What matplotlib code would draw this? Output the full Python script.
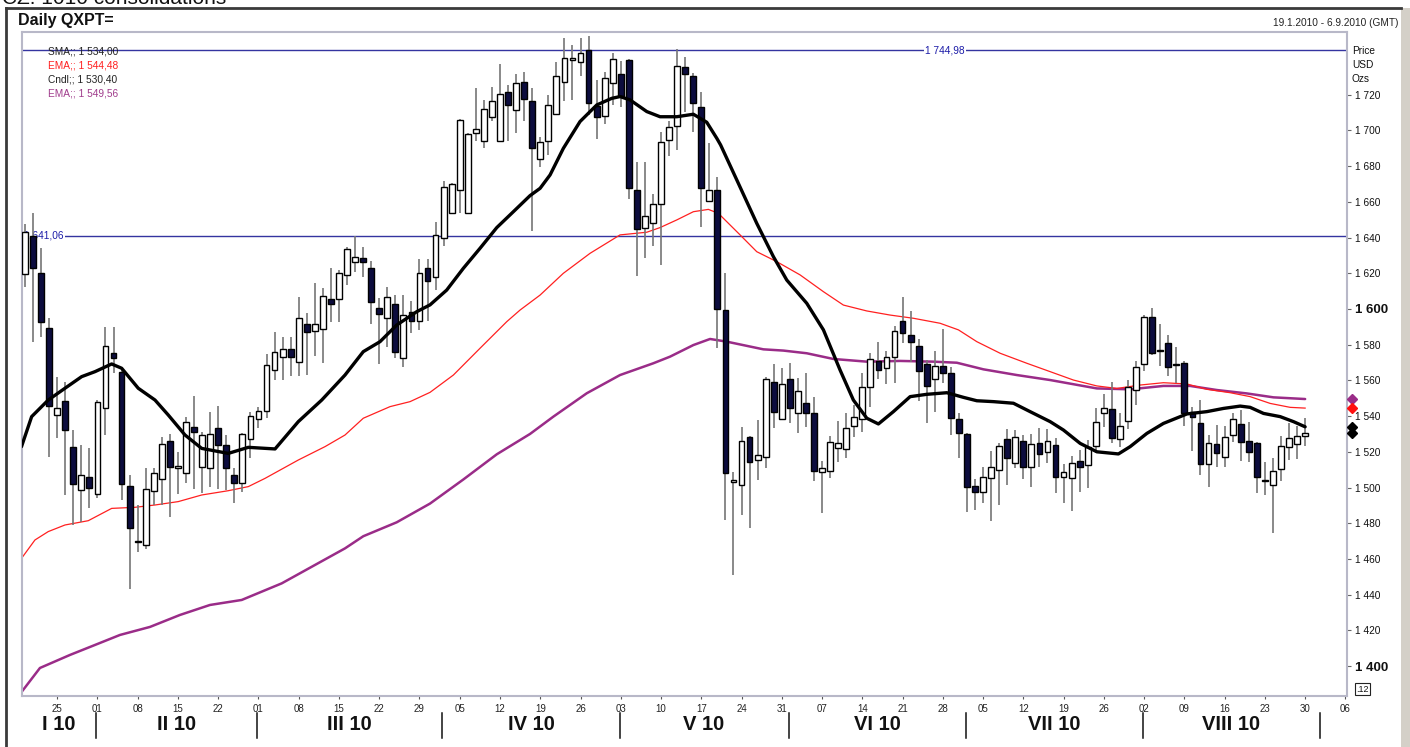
import matplotlib
matplotlib.use("Agg")
import matplotlib.pyplot as plt
import matplotlib.transforms as mtransforms
from matplotlib.lines import Line2D
from matplotlib.patches import Rectangle
import pandas as pd

plt.rcParams['font.family'] = ['Liberation Sans', 'DejaVu Sans']

# ---------------- data ----------------
first_day = "2010-01-19"
axis_last_day = "2010-09-06"
n_candles = 160

opens = [1619.6, 1640.9, 1620.0, 1589.2, 1540.6, 1548.5, 1522.9, 1498.6, 1506.1, 1496.2,
         1544.4, 1575.2, 1564.9, 1500.9, 1470.2, 1467.8, 1498.0, 1504.6, 1526.1, 1510.8,
         1507.9, 1534.1, 1511.3, 1511.1, 1533.2, 1523.8, 1506.8, 1502.3, 1527.0, 1538.2,
         1542.9, 1565.8, 1572.9, 1577.4, 1570.1, 1591.6, 1587.9, 1588.6, 1605.4, 1605.6,
         1619.0, 1626.1, 1628.4, 1622.8, 1600.4, 1594.8, 1602.6, 1572.4, 1598.1, 1593.3,
         1622.8, 1617.7, 1639.6, 1653.6, 1666.7, 1653.6, 1698.4, 1694.1, 1707.8, 1694.1,
         1721.8, 1711.5, 1727.4, 1716.5, 1683.8, 1694.1, 1709.1, 1727.0, 1739.5, 1738.2,
         1745.1, 1713.9, 1708.1, 1726.4, 1731.5, 1739.5, 1666.7, 1645.2, 1648.0, 1658.6,
         1694.7, 1702.5, 1735.4, 1730.7, 1713.4, 1660.5, 1666.7, 1599.4, 1502.9, 1501.4,
         1528.1, 1515.4, 1517.3, 1558.9, 1538.2, 1560.6, 1541.6, 1547.2, 1541.6, 1508.9,
         1509.4, 1521.9, 1521.4, 1534.5, 1538.2, 1556.1, 1571.1, 1566.8, 1572.9, 1593.5,
         1585.3, 1579.3, 1569.0, 1560.8, 1568.1, 1564.0, 1538.2, 1530.0, 1500.9, 1497.5,
         1505.1, 1509.8, 1527.0, 1513.5, 1526.3, 1511.7, 1525.1, 1519.7, 1523.8, 1506.0,
         1505.1, 1514.8, 1512.6, 1523.4, 1541.5, 1543.8, 1527.0, 1537.3, 1554.6, 1569.2,
         1595.3, 1577.0, 1580.8, 1569.0, 1569.9, 1542.5, 1535.9, 1513.0, 1524.2, 1517.3,
         1529.4, 1535.4, 1526.2, 1524.7, 1504.3, 1501.4, 1510.2, 1522.9, 1524.4, 1528.8]
highs = [1647.6, 1654.0, 1634.0, 1594.8, 1562.1, 1559.3, 1532.2, 1523.8, 1521.9, 1549.0,
         1590.1, 1590.1, 1566.0, 1507.0, 1490.2, 1510.8, 1510.8, 1528.5, 1529.8, 1520.1,
         1539.3, 1551.3, 1531.3, 1542.5, 1545.7, 1529.4, 1510.8, 1530.3, 1542.5, 1545.3,
         1574.6, 1587.3, 1584.5, 1584.1, 1606.9, 1598.0, 1614.4, 1612.0, 1623.2, 1621.8,
         1634.9, 1640.9, 1634.5, 1627.1, 1606.0, 1612.1, 1607.8, 1607.8, 1604.7, 1627.8,
         1627.8, 1648.9, 1671.7, 1670.5, 1706.4, 1698.5, 1723.6, 1717.1, 1724.6, 1737.1,
         1725.5, 1731.5, 1733.0, 1723.6, 1696.5, 1719.9, 1738.2, 1752.0, 1747.9, 1752.0,
         1752.9, 1728.3, 1733.0, 1743.2, 1738.9, 1740.1, 1682.5, 1682.5, 1664.2, 1699.0,
         1705.3, 1745.7, 1741.4, 1732.0, 1721.8, 1692.8, 1674.1, 1620.0, 1508.9, 1533.7,
         1528.9, 1537.8, 1562.1, 1569.0, 1566.8, 1570.0, 1561.2, 1564.0, 1550.5, 1515.0,
         1528.9, 1537.4, 1541.9, 1546.2, 1564.3, 1575.2, 1581.3, 1576.5, 1590.5, 1606.5,
         1599.1, 1583.0, 1571.4, 1576.5, 1588.6, 1567.3, 1541.9, 1530.7, 1504.6, 1511.3,
         1520.6, 1524.7, 1532.6, 1532.2, 1529.4, 1530.0, 1533.5, 1532.6, 1527.5, 1513.0,
         1517.6, 1521.0, 1526.6, 1544.3, 1552.2, 1559.3, 1541.5, 1560.2, 1571.0, 1596.6,
         1600.4, 1591.6, 1585.4, 1578.9, 1570.9, 1545.3, 1549.0, 1529.4, 1535.0, 1534.5,
         1541.9, 1543.4, 1536.9, 1525.5, 1514.5, 1516.3, 1528.8, 1536.3, 1534.5, 1538.7]
lows = [1612.2, 1581.7, 1584.5, 1516.9, 1527.6, 1495.8, 1479.0, 1480.9, 1488.3, 1494.0,
        1529.4, 1564.0, 1493.0, 1443.0, 1464.1, 1465.4, 1490.2, 1490.2, 1483.7, 1496.4,
        1502.3, 1499.0, 1496.7, 1500.5, 1499.0, 1498.6, 1491.1, 1497.7, 1516.3, 1533.2,
        1538.7, 1560.2, 1560.2, 1562.5, 1562.7, 1563.0, 1573.7, 1569.6, 1592.9, 1592.9,
        1613.4, 1620.9, 1618.1, 1591.4, 1569.0, 1578.9, 1572.4, 1567.3, 1586.4, 1588.2,
        1593.3, 1610.6, 1635.5, 1653.0, 1653.6, 1653.0, 1694.1, 1690.0, 1705.5, 1693.7,
        1694.1, 1698.4, 1705.3, 1643.7, 1679.7, 1686.3, 1708.7, 1716.7, 1717.1, 1730.7,
        1708.7, 1695.2, 1703.5, 1714.3, 1713.4, 1661.4, 1618.5, 1628.4, 1635.5, 1624.6,
        1685.9, 1689.1, 1710.2, 1699.3, 1646.1, 1660.1, 1578.0, 1481.8, 1451.0, 1484.6,
        1477.1, 1504.2, 1510.7, 1533.2, 1537.8, 1536.0, 1530.3, 1534.1, 1503.6, 1485.5,
        1505.1, 1514.5, 1516.3, 1528.1, 1531.3, 1545.3, 1560.6, 1558.0, 1558.4, 1580.8,
        1570.5, 1548.7, 1535.9, 1542.5, 1558.7, 1529.4, 1516.3, 1486.5, 1487.4, 1491.1,
        1481.4, 1490.2, 1501.4, 1510.7, 1504.6, 1500.1, 1511.7, 1513.9, 1497.1, 1491.1,
        1487.0, 1497.3, 1499.5, 1519.1, 1534.1, 1524.7, 1522.9, 1532.6, 1546.2, 1565.4,
        1574.2, 1568.1, 1562.5, 1558.4, 1534.5, 1520.6, 1507.0, 1500.1, 1511.7, 1511.7,
        1525.7, 1515.0, 1514.5, 1497.1, 1495.8, 1474.3, 1503.8, 1515.4, 1515.8, 1523.2]
closes = [1643.3, 1622.8, 1592.9, 1545.9, 1544.4, 1532.2, 1501.8, 1506.8, 1499.6, 1548.1,
          1579.3, 1572.4, 1501.8, 1477.1, 1469.5, 1499.4, 1507.9, 1524.2, 1511.7, 1512.1,
          1536.5, 1530.9, 1529.2, 1529.8, 1523.6, 1510.8, 1502.7, 1529.8, 1540.1, 1542.9,
          1568.6, 1575.7, 1577.6, 1573.3, 1595.0, 1586.9, 1591.6, 1607.1, 1602.6, 1620.0,
          1633.4, 1628.9, 1626.5, 1604.1, 1597.0, 1606.5, 1576.1, 1596.6, 1593.3, 1620.0,
          1615.9, 1641.3, 1668.2, 1670.0, 1705.7, 1698.0, 1700.7, 1712.0, 1716.7, 1720.3,
          1714.3, 1726.4, 1717.6, 1690.0, 1693.7, 1714.3, 1730.7, 1740.4, 1740.4, 1743.6,
          1715.2, 1707.4, 1729.2, 1739.9, 1719.3, 1668.0, 1644.6, 1652.3, 1658.8, 1693.4,
          1702.2, 1736.3, 1731.7, 1715.2, 1667.6, 1666.7, 1600.0, 1508.3, 1504.2, 1526.2,
          1514.5, 1518.0, 1560.6, 1542.5, 1557.8, 1544.4, 1554.1, 1541.6, 1509.4, 1511.1,
          1525.3, 1524.7, 1533.5, 1539.3, 1556.5, 1572.0, 1565.8, 1573.3, 1587.9, 1586.7,
          1581.7, 1565.5, 1556.9, 1568.1, 1564.3, 1538.8, 1530.7, 1500.1, 1497.7, 1505.7,
          1511.7, 1523.2, 1516.3, 1528.1, 1511.3, 1524.2, 1518.8, 1526.1, 1506.0, 1508.5,
          1513.5, 1511.3, 1522.5, 1536.9, 1544.3, 1527.5, 1534.6, 1556.1, 1567.7, 1595.7,
          1575.5, 1576.3, 1567.7, 1568.6, 1541.5, 1539.3, 1513.0, 1525.1, 1519.1, 1528.1,
          1538.4, 1525.7, 1519.7, 1505.7, 1503.8, 1509.4, 1523.4, 1527.5, 1528.8, 1530.4]

# moving averages (x = trading-day position, 0 = 19 Jan 2010)
sma_x = [-0.43, 0.83, 2.89, 4.97, 7.04, 8.70, 10.77, 12.01, 14.07, 16.15, 17.80, 19.88,
         21.95, 25.25, 27.74, 31.06, 33.95, 36.86, 39.75, 42.02, 44.10, 46.17, 48.66,
         50.31, 52.38, 54.45, 56.52, 58.60, 60.66, 62.73, 63.98, 65.22, 66.87, 68.94,
         71.02, 72.88, 73.91, 75.16, 77.23, 78.88, 80.96, 83.02, 84.68, 85.93, 86.4,
         88.41, 90.89, 92.96, 94.62, 97.10, 99.17, 101.24, 102.89, 104.56, 106.00,
         107.86, 109.94, 112.01, 114.50, 116.56, 118.22, 120.29, 122.77, 124.84,
         127.33, 128.98, 131.06, 133.13, 135.81, 137.27, 139.34, 141.40, 144.31,
         146.79, 148.86, 150.93, 152.17, 153.83, 155.90, 157.55, 159.0]
sma_vals = [1522.9, 1539.7, 1549.0, 1555.6, 1562.1, 1564.9, 1569.2, 1566.8, 1555.6, 1549.0,
            1540.6, 1529.4, 1521.9, 1519.1, 1522.5, 1521.6, 1536.9, 1549.0, 1563.0, 1576.1,
            1581.7, 1591.0, 1598.5, 1602.3, 1610.6, 1622.8, 1634.0, 1645.6, 1654.5, 1663.5,
            1667.6, 1675.1, 1690.0, 1705.0, 1714.3, 1718.0, 1719.0, 1717.1, 1710.6, 1707.7,
            1707.7, 1709.1, 1704.6, 1695.6, 1691.9, 1672.3, 1648.0, 1629.3, 1616.2, 1603.2,
            1588.3, 1565.8, 1549.0, 1538.8, 1535.6, 1542.5, 1550.9, 1552.2, 1553.1, 1550.5,
            1548.6, 1548.1, 1547.2, 1542.5, 1536.9, 1532.2, 1524.7, 1520.0, 1518.8, 1522.9,
            1530.3, 1535.9, 1541.2, 1542.5, 1544.3, 1545.6, 1544.9, 1541.5, 1539.7, 1536.9,
            1534.0]

ema_fast_x = [-0.43, 1.24, 2.89, 4.97, 7.86, 10.77, 13.66, 16.15, 19.04, 21.95, 25.25,
              27.74, 29.81, 33.95, 37.27, 39.75, 42.02, 45.34, 47.83, 50.31, 53.21, 56.52,
              59.84, 61.49, 63.98, 66.87, 70.19, 73.91, 77.23, 78.88, 80.96, 83.02, 84.88,
              86.12, 88.82, 90.89, 93.38, 96.27, 99.17, 101.65, 104.56, 107.45, 110.35,
              113.66, 115.94, 118.22, 121.12, 124.43, 127.33, 130.22, 133.13, 135.61,
              138.51, 141.40, 144.31, 146.79, 149.69, 152.17, 154.66, 157.14, 159.0]
ema_fast_vals = [1460.3, 1470.6, 1475.3, 1479.0, 1481.4, 1488.3, 1488.9, 1490.2, 1492.1,
                 1495.8, 1498.2, 1500.5, 1505.1, 1515.4, 1522.9, 1529.4, 1538.8, 1545.3,
                 1548.1, 1553.3, 1563.0, 1578.0, 1592.9, 1599.4, 1607.8, 1620.0, 1631.2,
                 1641.5, 1643.0, 1645.6, 1649.9, 1654.5, 1655.8, 1653.6, 1641.5, 1632.1,
                 1626.5, 1619.1, 1609.7, 1602.2, 1598.9, 1596.6, 1594.8, 1592.0, 1588.3,
                 1581.7, 1575.2, 1569.6, 1564.9, 1560.2, 1556.9, 1555.5, 1557.4, 1558.7,
                 1558.0, 1555.0, 1553.1, 1550.9, 1547.1, 1544.9, 1544.48]

ema_slow_x = [-0.43, 1.86, 5.59, 8.70, 11.80, 15.53, 19.25, 22.98, 26.92, 31.89, 36.02,
              39.75, 42.02, 46.17, 50.31, 54.45, 58.60, 62.73, 65.63, 69.78, 73.91, 78.05,
              80.12, 83.02, 85.09, 87.17, 91.71, 94.20, 97.10, 100.41, 104.56, 108.70,
              112.83, 115.74, 119.04, 123.19, 127.33, 133.13, 137.27, 141.40, 144.72,
              148.04, 151.76, 155.07, 159.0]
ema_slow_vals = [1385.4, 1398.9, 1406.2, 1411.8, 1417.4, 1421.9, 1428.6, 1434.2, 1437.0,
                 1446.3, 1456.6, 1465.9, 1472.7, 1480.5, 1491.0, 1504.5, 1518.6, 1530.0,
                 1539.7, 1552.8, 1563.0, 1569.6, 1573.3, 1579.8, 1583.2, 1581.7, 1577.4,
                 1576.7, 1575.2, 1572.0, 1570.5, 1570.9, 1570.5, 1569.9, 1566.2, 1563.0,
                 1560.2, 1555.5, 1555.0, 1556.9, 1556.9, 1554.6, 1552.7, 1550.5, 1549.56]

level_lines = [1744.98, 1641.06]
price_ticks = [1400, 1420, 1440, 1460, 1480, 1500, 1520, 1540, 1560, 1580,
               1600, 1620, 1640, 1660, 1680, 1700, 1720]
bold_ticks = [1400, 1600]
month_labels = ["I 10", "II 10", "III 10", "IV 10", "V 10", "VI 10", "VII 10", "VIII 10"]

# ---------------- figure ----------------
W, H = 1410, 747
fig = plt.figure(figsize=(W / 100, H / 100), dpi=100)
fig.patch.set_facecolor("white")


def fx(px):
    return px / W


def fy(py):
    return 1 - py / H


ax_l, ax_r, ax_t, ax_b = 21.5, 1347.0, 32.3, 696.0
ax = fig.add_axes([fx(ax_l), fy(ax_b), fx(ax_r - ax_l), (ax_b - ax_t) / H])
ax.set_facecolor("white")
ax.set_xlim(-0.43, 164.2)
ax.set_ylim(1383.2, 1755.0)
for s in ax.spines.values():
    s.set_color("#b8b8c8")
    s.set_linewidth(1.5)

# outer frame and right grey band
fig.add_artist(Line2D([fx(6), fx(6)], [0, fy(7.5)], color="#3a3a3a", lw=2))
fig.add_artist(Line2D([fx(6), fx(1401)], [fy(7.5), fy(7.5)], color="#3a3a3a", lw=2))
fig.add_artist(Rectangle((fx(1401), 0), fx(9), fy(7.5), transform=fig.transFigure,
                         facecolor="#d4d0c8", edgecolor="none"))

# page title (cut off at the top edge, as in the source) and chart headers
fig.text(fx(2), fy(4.5), "CZ: 1010 consolidations", fontsize=15, va="baseline",
         ha="left", color="#111111")
fig.text(fx(18), fy(20), "Daily QXPT=", fontsize=11.5, fontweight="bold",
         va="center", ha="left", color="#111111")
fig.text(fx(1398), fy(23), "19.1.2010 - 6.9.2010 (GMT)", fontsize=7.3,
         va="center", ha="right", color="#222222")

# ---------------- candles ----------------
dates_axis = pd.bdate_range(first_day, axis_last_day)
idx = list(range(n_candles))
body_w = 0.72
dark = "#0c0c3e"
ax.vlines(idx, lows, highs, color="#767676", lw=1.2, zorder=3)
bottoms = [min(o, c) for o, c in zip(opens, closes)]
heights = [max(abs(c - o), 0.6) for o, c in zip(opens, closes)]
colors = ["white" if c >= o else dark for o, c in zip(opens, closes)]
ax.bar(idx, heights, bottom=bottoms, width=body_w, color=colors, edgecolor="black",
       linewidth=1.0, zorder=4)

# ---------------- moving averages ----------------
ax.plot(ema_slow_x, ema_slow_vals, color="#9a2c88", lw=1.8, zorder=2.5,
        solid_capstyle="round")
ax.plot(ema_fast_x, ema_fast_vals, color="#ff2020", lw=0.9, zorder=2.5)
ax.plot(sma_x, sma_vals, color="black", lw=2.4, zorder=5, solid_capstyle="round")

# level lines with labels
for lv in level_lines:
    ax.axhline(lv, color="#3434a0", lw=1.0, zorder=1)


def fmt(v):
    return f"{v:,.2f}".replace(",", " ").replace(".", ",")


ax.text(114.3, level_lines[0], fmt(level_lines[0]), fontsize=7.3, color="#1c1ca8",
        ha="center", va="center", zorder=2,
        bbox=dict(facecolor="white", edgecolor="none", pad=1.0))
ax.text(-0.1, level_lines[1], fmt(level_lines[1]), fontsize=7.3, color="#1c1ca8",
        ha="left", va="center", zorder=2,
        bbox=dict(facecolor="white", edgecolor="none", pad=1.0))

# legend text (top-left)
legend_items = [("SMA;; " + fmt(sma_vals[-1]), "#222222"),
                ("EMA;; " + fmt(ema_fast_vals[-1]), "#ff2020"),
                ("Cndl;; " + fmt(closes[-1]), "#222222"),
                ("EMA;; " + fmt(ema_slow_vals[-1]), "#a03c8c")]
for k, (t, c) in enumerate(legend_items):
    fig.text(fx(47.7), fy(51.7 + 14 * k), t, fontsize=7.3, color=c, va="center",
             ha="left", zorder=6)

# right-edge markers
mk_x = 164.85
for v, c in [(ema_slow_vals[-1], "#9a2c88"), (ema_fast_vals[-1], "#ff1010"),
             (sma_vals[-1], "black"), (closes[-1], "black")]:
    ax.plot([mk_x], [v], marker="D", ms=5, color=c, clip_on=False, zorder=6)

# ---------------- y axis (right) ----------------
ax.yaxis.tick_right()
ax.set_yticks(price_ticks)
ax.set_yticklabels([fmt(t)[:-3] for t in price_ticks])
ax.tick_params(axis="y", length=3, width=0.8, color="#666666", pad=3,
               labelsize=7.3, labelcolor="#111111")
for lab, t in zip(ax.get_yticklabels(), price_ticks):
    if t in bold_ticks:
        lab.set_fontweight("bold")
        lab.set_fontsize(9.5)
for k, t in enumerate(["Price", "USD", "Ozs"]):
    fig.text(fx(1352), fy(51 + 14 * k), t, fontsize=7.3, color="#111111",
             va="center", ha="left")
fig.text(fx(1356), fy(689), ".12", fontsize=6.5, color="#111111", va="center",
         ha="left", bbox=dict(boxstyle="square,pad=0.15", facecolor="white",
                              edgecolor="#222222", lw=0.8))

# ---------------- x axis ----------------
mondays = [i for i, d in enumerate(dates_axis) if d.weekday() == 0]
ax.set_xticks(mondays)
ax.set_xticklabels([dates_axis[i].strftime("%d") for i in mondays])
ax.tick_params(axis="x", length=2.5, width=0.8, color="#555555", pad=3,
               labelsize=7, labelcolor="#222222")

month_starts = [i for i in range(1, len(dates_axis))
                if dates_axis[i].month != dates_axis[i - 1].month]
seps = [m - 0.15 for m in month_starts]
trans = mtransforms.blended_transform_factory(ax.transData, fig.transFigure)
for s in seps:
    ax.add_artist(Line2D([s, s], [fy(713), fy(738)], transform=trans, color="#111111",
                         lw=1.1, clip_on=False))
bounds = [ax.get_xlim()[0]] + seps
for k, lab in enumerate(month_labels):
    xc = (bounds[k] + bounds[k + 1]) / 2
    ax.text(xc, fy(725), lab, transform=trans, fontsize=14.5, fontweight="bold",
            ha="center", va="center", color="#111111")

fig.savefig("out.png", dpi=100, facecolor="white")
